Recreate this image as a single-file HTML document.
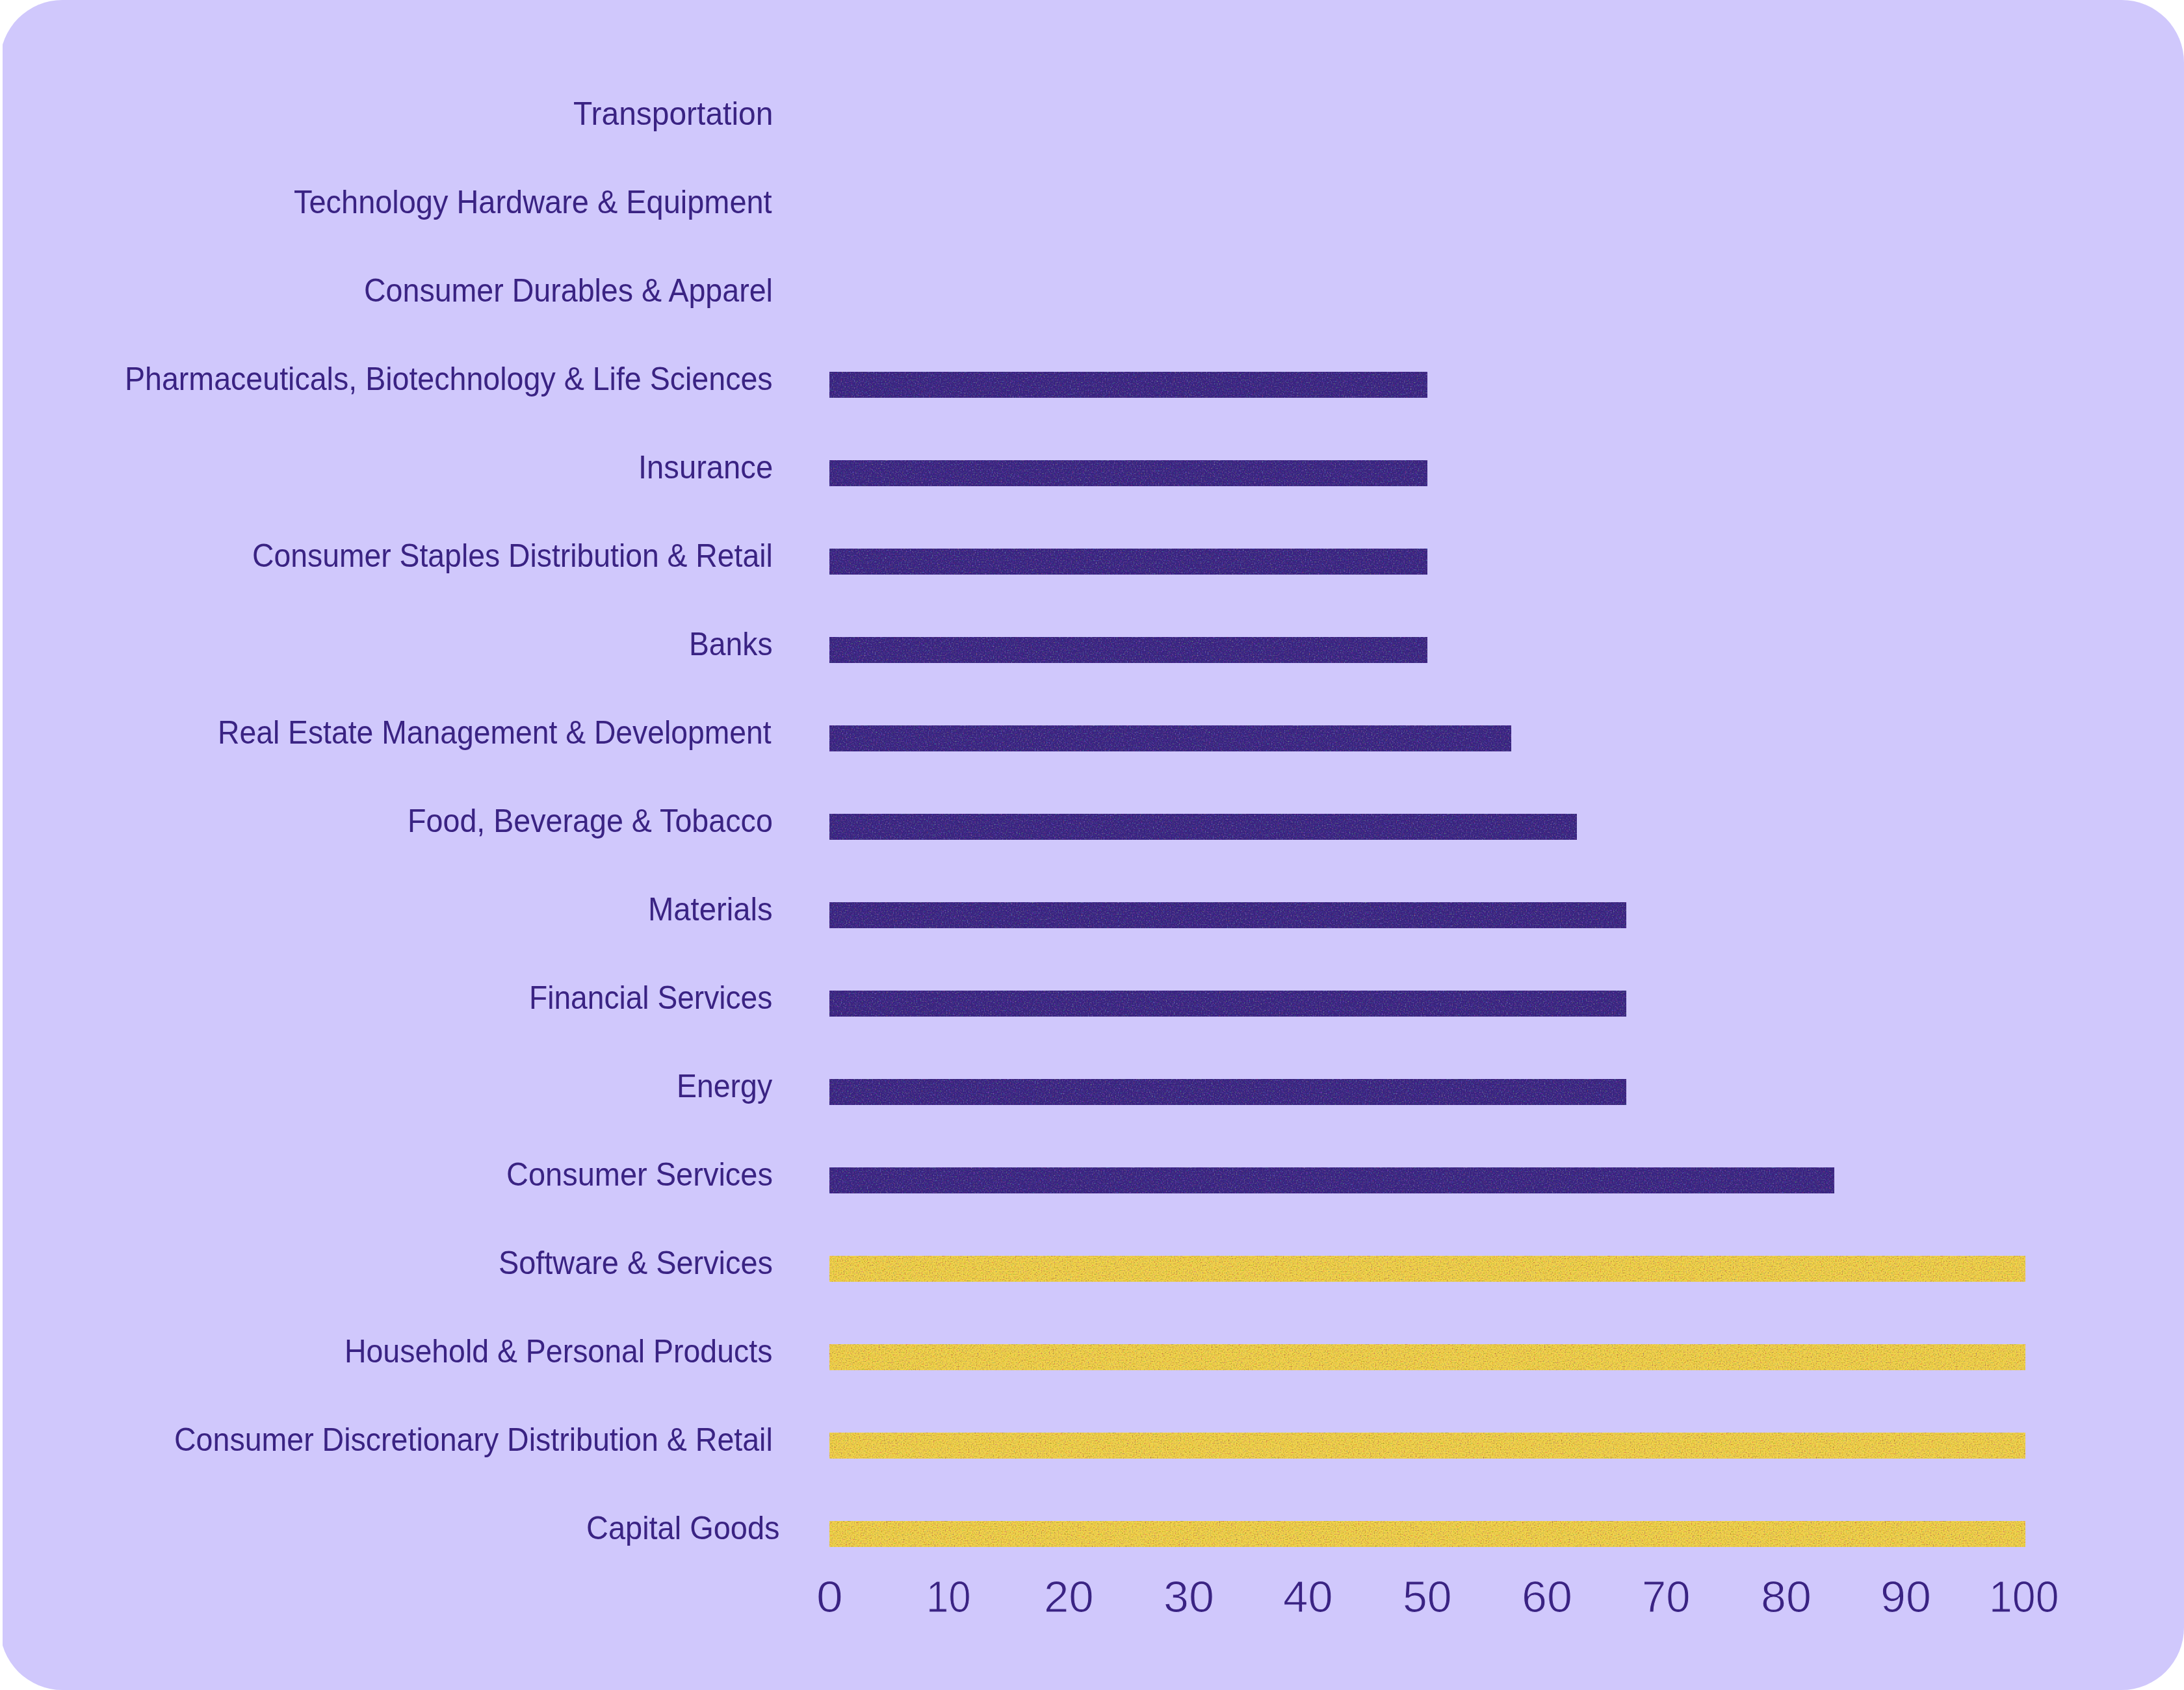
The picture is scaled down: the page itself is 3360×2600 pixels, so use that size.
<!DOCTYPE html>
<html><head><meta charset="utf-8"><style>
html,body{margin:0;padding:0;background:#fff;}
body{width:3360px;height:2600px;position:relative;overflow:hidden;font-family:"Liberation Sans",Arial,sans-serif;}
.card{position:absolute;left:0;top:0;width:3360px;height:2600px;border-radius:96px;background:#d0c8fc;}
.strip{position:absolute;left:0;top:0;width:4px;height:2600px;background:#fff;}
.lb{position:absolute;font-size:50px;line-height:80px;height:80px;white-space:nowrap;color:#3a2383;transform-origin:0 0;}
.bars{position:absolute;left:0;top:0;}
@media (max-width:1800px) and (min-width:1201px){body{zoom:0.5;}}
@media (max-width:1200px){body{zoom:0.25;}}
.tk{position:absolute;font-size:69px;line-height:100px;height:100px;white-space:nowrap;color:#3a2383;transform-origin:0 0;-webkit-text-stroke:1.1px #d0c8fc;}
</style></head><body>
<div class="card"></div>
<div class="strip"></div>
<svg class="bars" width="3360" height="2600" viewBox="0 0 3360 2600">
<defs>
<filter id="nzp" x="0" y="0" width="1" height="1" color-interpolation-filters="sRGB">
<feTurbulence type="fractalNoise" baseFrequency="0.5" numOctaves="2" seed="4" result="t"/>
<feColorMatrix in="t" type="matrix" values="1.3 0 0 0 -0.2  0 1.3 0 0 -0.25  0 0 1.3 0 -0.05  0 0 0 1.3 -0.5" result="c"/>
<feComposite in="c" in2="SourceGraphic" operator="in" result="c2"/>
<feMerge><feMergeNode in="SourceGraphic"/><feMergeNode in="c2"/></feMerge>
</filter>
<filter id="nzy" x="0" y="0" width="1" height="1" color-interpolation-filters="sRGB">
<feTurbulence type="fractalNoise" baseFrequency="0.5" numOctaves="2" seed="7" result="t"/>
<feColorMatrix in="t" type="matrix" values="1.3 0 0 0 0  0 1.3 0 0 -0.15  0 0 1.3 0 -0.4  0 0 0 1.3 -0.5" result="c"/>
<feComposite in="c" in2="SourceGraphic" operator="in" result="c2"/>
<feMerge><feMergeNode in="SourceGraphic"/><feMergeNode in="c2"/></feMerge>
</filter>
</defs>
<rect x="1276" y="572" width="920" height="40" fill="#36207f" filter="url(#nzp)"/>
<rect x="1276" y="708" width="920" height="40" fill="#36207f" filter="url(#nzp)"/>
<rect x="1276" y="844" width="920" height="40" fill="#36207f" filter="url(#nzp)"/>
<rect x="1276" y="980" width="920" height="40" fill="#36207f" filter="url(#nzp)"/>
<rect x="1276" y="1116" width="1049" height="40" fill="#36207f" filter="url(#nzp)"/>
<rect x="1276" y="1252" width="1150" height="40" fill="#36207f" filter="url(#nzp)"/>
<rect x="1276" y="1388" width="1226" height="40" fill="#36207f" filter="url(#nzp)"/>
<rect x="1276" y="1524" width="1226" height="40" fill="#36207f" filter="url(#nzp)"/>
<rect x="1276" y="1660" width="1226" height="40" fill="#36207f" filter="url(#nzp)"/>
<rect x="1276" y="1796" width="1546" height="40" fill="#36207f" filter="url(#nzp)"/>
<rect x="1276" y="1932" width="1840" height="40" fill="#f4d64c" filter="url(#nzy)"/>
<rect x="1276" y="2068" width="1840" height="40" fill="#f4d64c" filter="url(#nzy)"/>
<rect x="1276" y="2204" width="1840" height="40" fill="#f4d64c" filter="url(#nzy)"/>
<rect x="1276" y="2340" width="1840" height="40" fill="#f4d64c" filter="url(#nzy)"/></svg>
<div class="lb" style="left:882.04px;top:135px;transform:scaleX(0.9589)">Transportation</div>
<div class="lb" style="left:452.06px;top:271px;transform:scaleX(0.9386)">Technology Hardware &amp; Equipment</div>
<div class="lb" style="left:560.21px;top:407px;transform:scaleX(0.9312)">Consumer Durables &amp; Apparel</div>
<div class="lb" style="left:192.27px;top:543px;transform:scaleX(0.9314)">Pharmaceuticals, Biotechnology &amp; Life Sciences</div>
<div class="lb" style="left:982.28px;top:679px;transform:scaleX(0.9434)">Insurance</div>
<div class="lb" style="left:388.22px;top:815px;transform:scaleX(0.9266)">Consumer Staples Distribution &amp; Retail</div>
<div class="lb" style="left:1060.30px;top:951px;transform:scaleX(0.9248)">Banks</div>
<div class="lb" style="left:335.30px;top:1087px;transform:scaleX(0.9258)">Real Estate Management &amp; Development</div>
<div class="lb" style="left:627.27px;top:1223px;transform:scaleX(0.9329)">Food, Beverage &amp; Tobacco</div>
<div class="lb" style="left:997.22px;top:1359px;transform:scaleX(0.9442)">Materials</div>
<div class="lb" style="left:814.31px;top:1495px;transform:scaleX(0.9225)">Financial Services</div>
<div class="lb" style="left:1041.29px;top:1631px;transform:scaleX(0.9286)">Energy</div>
<div class="lb" style="left:779.18px;top:1767px;transform:scaleX(0.9397)">Consumer Services</div>
<div class="lb" style="left:767.13px;top:1903px;transform:scaleX(0.9372)">Software &amp; Services</div>
<div class="lb" style="left:530.28px;top:2039px;transform:scaleX(0.9289)">Household &amp; Personal Products</div>
<div class="lb" style="left:268.21px;top:2175px;transform:scaleX(0.9308)">Consumer Discretionary Distribution &amp; Retail</div>
<div class="lb" style="left:902.18px;top:2311px;transform:scaleX(0.9391)">Capital Goods</div>
<div class="tk" style="left:1255.81px;top:2407px;transform:scaleX(1.0625)">0</div>
<div class="tk" style="left:1424.63px;top:2407px;transform:scaleX(0.8955)">10</div>
<div class="tk" style="left:1606.00px;top:2407px;transform:scaleX(1.0000)">20</div>
<div class="tk" style="left:1789.96px;top:2407px;transform:scaleX(1.0143)">30</div>
<div class="tk" style="left:1974.00px;top:2407px;transform:scaleX(1.0000)">40</div>
<div class="tk" style="left:2158.06px;top:2407px;transform:scaleX(0.9855)">50</div>
<div class="tk" style="left:2340.94px;top:2407px;transform:scaleX(1.0145)">60</div>
<div class="tk" style="left:2526.12px;top:2407px;transform:scaleX(0.9710)">70</div>
<div class="tk" style="left:2708.94px;top:2407px;transform:scaleX(1.0145)">80</div>
<div class="tk" style="left:2892.94px;top:2407px;transform:scaleX(1.0145)">90</div>
<div class="tk" style="left:3060.40px;top:2407px;transform:scaleX(0.9340)">100</div>
</body></html>
